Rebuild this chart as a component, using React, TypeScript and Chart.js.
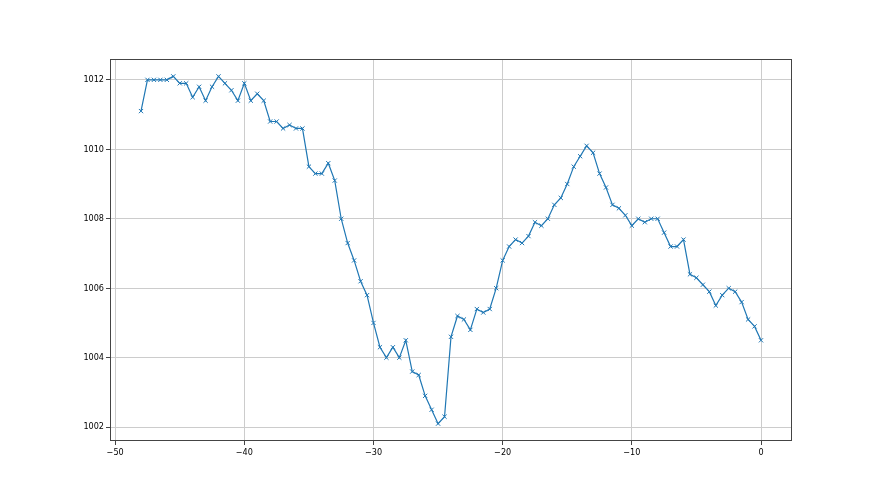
import React, { useEffect, useRef } from "react";
import { Chart, registerables } from "chart.js";

Chart.register(...registerables);

const hoursBefore: number[] = [
  -48, -47.5, -47, -46.5, -46, -45.5, -45, -44.5, -44, -43.5,
  -43, -42.5, -42, -41.5, -41, -40.5, -40, -39.5, -39, -38.5,
  -38, -37.5, -37, -36.5, -36, -35.5, -35, -34.5, -34, -33.5,
  -33, -32.5, -32, -31.5, -31, -30.5, -30, -29.5, -29, -28.5,
  -28, -27.5, -27, -26.5, -26, -25.5, -25, -24.5, -24, -23.5,
  -23, -22.5, -22, -21.5, -21, -20.5, -20, -19.5, -19, -18.5,
  -18, -17.5, -17, -16.5, -16, -15.5, -15, -14.5, -14, -13.5,
  -13, -12.5, -12, -11.5, -11, -10.5, -10, -9.5, -9, -8.5,
  -8, -7.5, -7, -6.5, -6, -5.5, -5, -4.5, -4, -3.5,
  -3, -2.5, -2, -1.5, -1, -0.5, 0,
];

const pressure: number[] = [
  1011.1, 1012.0, 1012.0, 1012.0, 1012.0, 1012.1, 1011.9, 1011.9, 1011.5, 1011.8,
  1011.4, 1011.8, 1012.1, 1011.9, 1011.7, 1011.4, 1011.9, 1011.4, 1011.6, 1011.4,
  1010.8, 1010.8, 1010.6, 1010.7, 1010.6, 1010.6, 1009.5, 1009.3, 1009.3, 1009.6,
  1009.1, 1008.0, 1007.3, 1006.8, 1006.2, 1005.8, 1005.0, 1004.3, 1004.0, 1004.3,
  1004.0, 1004.5, 1003.6, 1003.5, 1002.9, 1002.5, 1002.1, 1002.3, 1004.6, 1005.2,
  1005.1, 1004.8, 1005.4, 1005.3, 1005.4, 1006.0, 1006.8, 1007.2, 1007.4, 1007.3,
  1007.5, 1007.9, 1007.8, 1008.0, 1008.4, 1008.6, 1009.0, 1009.5, 1009.8, 1010.1,
  1009.9, 1009.3, 1008.9, 1008.4, 1008.3, 1008.1, 1007.8, 1008.0, 1007.9, 1008.0,
  1008.0, 1007.6, 1007.2, 1007.2, 1007.4, 1006.4, 1006.3, 1006.1, 1005.9, 1005.5,
  1005.8, 1006.0, 1005.9, 1005.6, 1005.1, 1004.9, 1004.5,
];

const xTickValues: number[] = [-50, -40, -30, -20, -10, 0];
const yTickValues: number[] = [1002, 1004, 1006, 1008, 1010, 1012];

const FONT = "'DejaVu Sans Condensed', 'DejaVu Sans', sans-serif";

const boxPlugin = {
  id: "axesBox",
  afterDraw(chart: any) {
    const { ctx, chartArea } = chart;
    ctx.save();
    ctx.strokeStyle = "#444";
    ctx.lineWidth = 1;
    ctx.strokeRect(
      Math.round(chartArea.left) + 0.5,
      Math.round(chartArea.top) + 0.5,
      Math.round(chartArea.right - chartArea.left) - 1,
      Math.round(chartArea.bottom - chartArea.top) - 1
    );
    ctx.restore();
  },
};

const minusFmt = (v: number) => String(v).replace("-", "\u2212");

export default function App() {
  const canvasRef = useRef<HTMLCanvasElement | null>(null);

  useEffect(() => {
    if (!canvasRef.current) return;
    const points = hoursBefore.map((x, i) => ({ x, y: pressure[i] }));
    const chart = new Chart(canvasRef.current, {
      type: "line",
      data: {
        datasets: [
          {
            data: points,
            borderColor: "#1f77b4",
            backgroundColor: "#1f77b4",
            borderWidth: 1.2,
            pointStyle: "crossRot",
            pointRadius: 3,
            pointBorderWidth: 1,
            pointBorderColor: "#1f77b4",
            fill: false,
            tension: 0,
          },
        ],
      },
      options: {
        responsive: false,
        animation: false,
        events: [],
        layout: { padding: { left: 0, right: 88, top: 59, bottom: 0 } },
        plugins: {
          legend: { display: false },
          tooltip: { enabled: false },
          title: { display: false },
        },
        scales: {
          x: {
            type: "linear",
            min: -50.4,
            max: 2.4,
            afterBuildTicks: (scale: any) => {
              scale.ticks = xTickValues.map((value) => ({ value }));
            },
            afterFit: (scale: any) => {
              scale.height = 54;
            },
            grid: {
              color: "#cccccc",
              lineWidth: 1,
              drawTicks: true,
              tickLength: 4,
              tickColor: "#444",
            },
            border: { display: false },
            ticks: {
              color: "#000",
              font: { family: FONT, size: 9 },
              padding: 2,
              maxRotation: 0,
              autoSkip: false,
              callback: (v: any) => minusFmt(Number(v)),
            },
          },
          y: {
            type: "linear",
            min: 1001.6,
            max: 1012.6,
            afterBuildTicks: (scale: any) => {
              scale.ticks = yTickValues.map((value) => ({ value }));
            },
            afterFit: (scale: any) => {
              scale.width = 110;
            },
            grid: {
              color: "#cccccc",
              lineWidth: 1,
              drawTicks: true,
              tickLength: 4,
              tickColor: "#444",
            },
            border: { display: false },
            ticks: {
              color: "#000",
              font: { family: FONT, size: 9 },
              padding: 2,
              autoSkip: false,
              callback: (v: any) => String(v),
            },
          },
        },
      },
      plugins: [boxPlugin],
    } as any);
    return () => chart.destroy();
  }, []);

  return (
    <div style={{ position: "fixed", left: 0, top: 0, width: 880, height: 495, background: "#fff" }}>
      <canvas ref={canvasRef} width={880} height={495} style={{ width: 880, height: 495 }} />
    </div>
  );
}
